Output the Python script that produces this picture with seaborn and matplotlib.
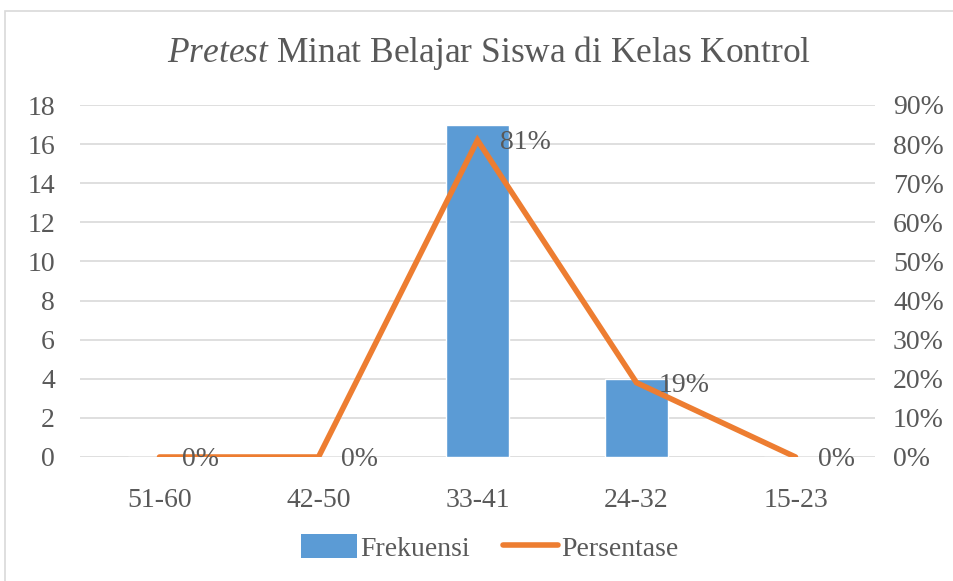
import matplotlib
matplotlib.use("Agg")
import matplotlib.pyplot as plt
import seaborn as sns
import pandas as pd
from matplotlib.patches import Rectangle
from matplotlib.lines import Line2D

categories = ["51-60", "42-50", "33-41", "24-32", "15-23"]
frekuensi = [0, 0, 17, 4, 0]
persentase = [0.0, 0.0, 0.81, 0.19, 0.0]
left_ticks = [0, 2, 4, 6, 8, 10, 12, 14, 16, 18]
right_ticks = [0.0, 0.1, 0.2, 0.3, 0.4, 0.5, 0.6, 0.7, 0.8, 0.9]

sns.set_theme(style="white")
plt.rcParams["font.family"] = ["Liberation Serif", "DejaVu Serif"]
plt.rcParams["mathtext.fontset"] = "custom"
plt.rcParams["mathtext.it"] = "Liberation Serif:italic"
plt.rcParams["mathtext.rm"] = "Liberation Serif"

BLUE = "#5B9BD5"
ORANGE = "#ED7D31"
TXT = "#595959"
GRID = "#D9D9D9"
FS = 20

df = pd.DataFrame({"cat": categories, "Frekuensi": frekuensi, "Persentase": persentase})

fig = plt.figure(figsize=(9.54, 5.81), dpi=100)
fig.patches.append(Rectangle((5/954, -0.1), 1.2, 1 - 11/581 + 0.1, transform=fig.transFigure,
                             fill=False, edgecolor="#D9D9D9", linewidth=1.2))
ax = fig.add_axes([80/954, 1 - 457/581, 795/954, 352/581])
sns.barplot(data=df, x="cat", y="Frekuensi", color=BLUE, width=0.4, saturation=1, ax=ax, zorder=2)
ax.set_xlim(-0.5, 4.5)
ax.set_ylim(0, 18)
ax.set_yticks(left_ticks)
ax.set_yticklabels([str(v) for v in left_ticks])
ax.yaxis.grid(True, color=GRID, linewidth=1.2, zorder=0)
ax.set_axisbelow(True)
for s in ax.spines.values():
    s.set_visible(False)
ax.set_xlabel("")
ax.set_ylabel("")
ax.tick_params(axis="y", length=0, pad=18, labelsize=FS, labelcolor=TXT)
ax.tick_params(axis="x", length=0, pad=22, labelsize=FS, labelcolor=TXT)

ax2 = ax.twinx()
sns.lineplot(data=df, x="cat", y="Persentase", color=ORANGE, linewidth=4, ax=ax2,
             sort=False, solid_capstyle="round", solid_joinstyle="miter", zorder=3)
ax2.set_ylim(0, 0.9)
ax2.set_yticks(right_ticks)
ax2.set_yticklabels([f"{int(round(v*100))}%" for v in right_ticks])
ax2.tick_params(axis="y", length=0, pad=13, labelsize=FS, labelcolor=TXT)
ax2.set_ylabel("")
for s in ax2.spines.values():
    s.set_visible(False)
ax2.grid(False)
for i, p in enumerate(persentase):
    ax2.annotate(f"{int(round(p*100))}%", (i, p), xytext=(16, -2), textcoords="offset points",
                 ha="left", va="center", fontsize=FS, color=TXT, zorder=5)

fig.text(489/954, 1 - 53/581, r"$\it{Pretest}$ Minat Belajar Siswa di Kelas Kontrol",
         ha="center", va="center", fontsize=25.5, color=TXT)

handles = [Rectangle((0, 0), 1, 1, facecolor=BLUE, edgecolor="none"),
           Line2D([0], [0], color=ORANGE, linewidth=4, solid_capstyle="round")]
fig.legend(handles, ["Frekuensi", "Persentase"], loc="center", bbox_to_anchor=(490/954, 1 - 548/581),
           ncol=2, frameon=False, fontsize=FS, labelcolor=TXT, handlelength=2.0, handleheight=0.9,
           handletextpad=0.1, columnspacing=1.2)

fig.savefig("out.png", dpi=100)
